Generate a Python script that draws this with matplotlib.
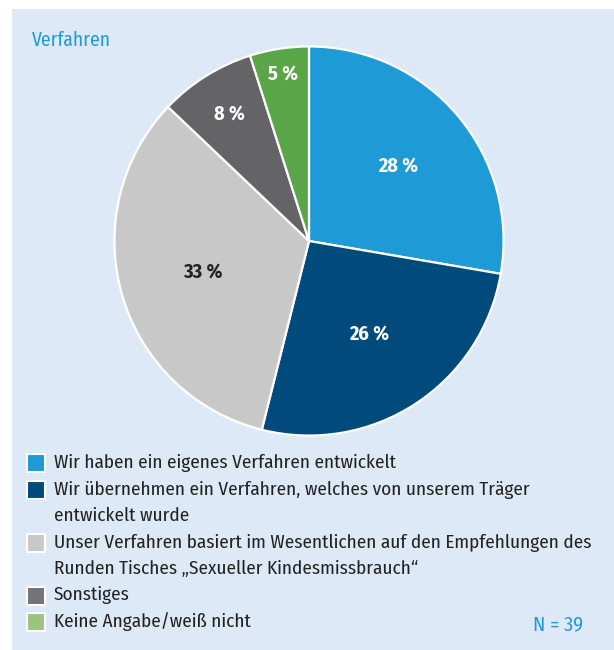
import matplotlib
matplotlib.use("Agg")
import numpy as np
import matplotlib.pyplot as plt
from matplotlib.patches import Rectangle

plt.rcParams['font.family'] = ['Fira Sans Condensed', 'DejaVu Sans']

# data: shares in percent (N = 39)
categories = [
    "Wir haben ein eigenes Verfahren entwickelt",
    "Wir übernehmen ein Verfahren, welches von unserem Träger\nentwickelt wurde",
    "Unser Verfahren basiert im Wesentlichen auf den Empfehlungen des\nRunden Tisches \u201eSexueller Kindesmissbrauch\u201c",
    "Sonstiges",
    "Keine Angabe/weiß nicht",
]
shares = [27.7, 26.2, 33.2, 8.0, 4.9]
n_total = 39

pie_colors = ['#1e9ad6', '#004b7c', '#c8c8c8', '#646467', '#59a547']
legend_colors = ['#1e9ad6', '#004b7c', '#c8c8c8', '#737378', '#9bc382']
label_colors = ['white', 'white', '#222222', 'white', 'white']
label_dist = [0.60, 0.57, 0.57, 0.77, 0.87]

W, H = 614, 650
fig = plt.figure(figsize=(W / 100, H / 100), dpi=100)
fig.patch.set_facecolor('white')

# light blue panel
fig.patches.append(Rectangle((12 / W, 0), 1 - 12 / W, 1 - 9 / H,
                             transform=fig.transFigure, facecolor='#dde9f6',
                             edgecolor='none', zorder=-5))

fig.text(32 / W, 1 - 40 / H, "Verfahren", color='#1e9ad6', fontsize=14,
         va='center', ha='left')

# pie
cx, cy, r = 309, 241, 196.5
ax = fig.add_axes([(cx - r) / W, 1 - (cy + r) / H, 2 * r / W, 2 * r / H])
ax.set_zorder(2)
wedges, _ = ax.pie(shares, colors=pie_colors, startangle=90, counterclock=False,
                   radius=1, wedgeprops=dict(edgecolor='white', linewidth=1.6))
ax.set_xlim(-1.01, 1.01)
ax.set_ylim(-1.01, 1.01)
ax.set_aspect('equal')
ax.axis('off')

for w, s, col, d in zip(wedges, shares, label_colors, label_dist):
    ang = np.deg2rad((w.theta1 + w.theta2) / 2)
    ax.text(d * np.cos(ang), d * np.sin(ang), f"{round(s)} %",
            ha='center', va='center', color=col, fontsize=14.5, fontweight='bold')

# legend
y = 463
step = 26.5
for lab, col in zip(categories, legend_colors):
    fig.patches.append(Rectangle((27 / W, 1 - (y + 9) / H), 18 / W, 18 / H,
                                 transform=fig.transFigure, facecolor=col,
                                 edgecolor='white', linewidth=1.5, zorder=2))
    for i, line in enumerate(lab.split("\n")):
        fig.text(54 / W, 1 - (y + i * step) / H, line, color='#222222',
                 fontsize=13.8, va='center', ha='left')
    y += step * (lab.count("\n") + 1)

fig.text(583 / W, 1 - 625 / H, f"N = {n_total}", color='#1e9ad6', fontsize=14.5,
         ha='right', va='center')

fig.savefig("out.png", dpi=100)
